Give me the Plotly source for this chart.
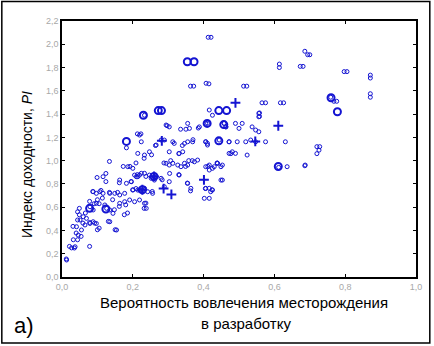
import plotly.graph_objects as go

# ---- data ----
x_small = [
    0.413, 0.421, 0.363, 0.372, 0.407, 0.415, 0.513, 0.522,
    0.686, 0.694, 0.700, 0.614, 0.614, 0.673, 0.681, 0.797, 0.805,
    0.871, 0.871, 0.871, 0.871, 0.759, 0.768, 0.776, 0.558, 0.558,
    0.720, 0.728, 0.726, 0.720, 0.686,
    0.182, 0.134, 0.173, 0.192, 0.209, 0.099, 0.124, 0.124,
    0.087, 0.110, 0.134, 0.157, 0.100, 0.114, 0.143, 0.091, 0.105,
    0.148, 0.162, 0.180, 0.185, 0.176, 0.232, 0.237,
    0.131, 0.150, 0.100, 0.105, 0.059, 0.078, 0.092,
    0.044, 0.049, 0.031, 0.040, 0.044, 0.054, 0.035, 0.021, 0.078, 0.012,
    0.044, 0.049, 0.078, 0.066,
    # dense cluster (lower left)
    0.013, 0.027, 0.037, 0.032, 0.046, 0.041, 0.051, 0.060, 0.069, 0.065, 0.055,
    0.079, 0.088, 0.097, 0.079, 0.088, 0.097, 0.088, 0.097, 0.107, 0.116,
    0.126, 0.135, 0.121, 0.135, 0.144, 0.154, 0.163, 0.177, 0.191,
    0.135, 0.149, 0.163, 0.177, 0.116, 0.163, 0.182, 0.196, 0.186, 0.200,
    0.210, 0.219, 0.233, 0.247, 0.261, 0.214, 0.228, 0.242, 0.256,
    0.205, 0.219, 0.233, 0.238,
    # middle band
    0.233, 0.294, 0.303, 0.355, 0.360, 0.388, 0.411, 0.458, 0.463,
    0.219, 0.224, 0.280, 0.289, 0.313, 0.317, 0.346, 0.355, 0.369,
    0.406, 0.411, 0.444, 0.472, 0.477, 0.266, 0.303, 0.331, 0.341,
    0.214, 0.233, 0.247, 0.294, 0.303, 0.313, 0.327, 0.336, 0.346, 0.355,
    0.374, 0.383, 0.416, 0.425, 0.439, 0.449, 0.205, 0.214, 0.224,
    0.261, 0.280, 0.289, 0.303, 0.331, 0.355, 0.364, 0.416, 0.420, 0.449,
    0.200, 0.219, 0.233, 0.252, 0.261,
    # upper-middle band
    0.565, 0.575, 0.617, 0.626, 0.416, 0.425, 0.556, 0.556, 0.406,
    0.458, 0.463, 0.490, 0.509, 0.500, 0.537, 0.547, 0.556,
    0.406, 0.411, 0.472, 0.519, 0.533, 0.547, 0.575, 0.631,
    0.472, 0.481, 0.490, 0.495, 0.523,
    0.406, 0.416, 0.430, 0.439, 0.453, 0.612, 0.636, 0.687,
    0.453, 0.406, 0.425, 0.402, 0.416,
    0.297, 0.335, 0.350, 0.385, 0.213, 0.223, 0.264, 0.340, 0.370,
    0.253, 0.232, 0.330, 0.288, 0.307, 0.358, 0.368, 0.349,
    0.412, 0.438, 0.330, 0.304, 0.283, 0.237, 0.213, 0.195, 0.162,
    0.354, 0.363, 0.405, 0.424, 0.200, 0.209, 0.255,
]
y_small = [
    2.060, 2.060, 1.640, 1.640, 1.665, 1.660, 1.640, 1.640,
    1.940, 1.910, 1.910, 1.830, 1.800, 1.810, 1.810, 1.765, 1.765,
    1.735, 1.710, 1.575, 1.545, 1.545, 1.510, 1.510, 1.410, 1.380,
    1.120, 1.120, 1.090, 1.060, 0.956,
    1.110, 0.993, 0.950, 0.950, 0.980, 0.855, 0.890, 0.820,
    0.735, 0.744, 0.727, 0.727, 0.664, 0.678, 0.664, 0.630, 0.630,
    0.578, 0.607, 0.620, 0.550, 0.535, 0.590, 0.635,
    0.478, 0.406, 0.406, 0.420, 0.463, 0.469, 0.463,
    0.490, 0.535, 0.435, 0.378, 0.320, 0.349, 0.249, 0.263, 0.263, 0.155,
    0.560, 0.590, 0.650, 0.550,
    # dense cluster (lower left)
    0.146, 0.250, 0.260, 0.320, 0.360, 0.432, 0.490, 0.518, 0.504, 0.447, 0.404,
    0.460, 0.475, 0.460, 0.604, 0.576, 0.633, 0.733, 0.719, 0.733, 0.719,
    0.590, 0.576, 0.619, 0.475, 0.547, 0.404, 0.633, 0.647, 0.662,
    0.719, 0.719, 0.705, 0.719, 0.862, 0.833, 0.805, 0.819, 0.948, 0.934,
    0.862, 0.876, 0.891, 0.876, 0.862, 0.747, 0.747, 0.733, 0.719,
    0.647, 0.662, 0.633, 0.590,
    # middle band
    1.390, 1.306, 1.290, 1.320, 1.277, 1.290, 1.320, 1.320, 1.290,
    1.220, 1.162, 1.177, 1.177, 1.162, 1.148, 1.148, 1.162, 1.162,
    1.162, 1.134, 1.177, 1.162, 1.060, 1.134, 1.076, 1.062, 1.076,
    1.062, 1.048, 1.076, 0.977, 0.962, 0.977, 0.962, 0.948, 0.977, 0.962,
    0.990, 1.005, 0.962, 0.934, 0.977, 0.948, 0.876, 0.862, 0.891,
    0.862, 0.848, 0.776, 0.819, 0.876, 0.805, 0.762, 0.762, 0.733, 0.833,
    0.747, 0.747, 0.762, 0.848, 0.833,
    # upper-middle band
    1.497, 1.497, 1.497, 1.497, 1.435, 1.390, 1.406, 1.377, 1.320,
    1.320, 1.290, 1.320, 1.320, 1.277, 1.290, 1.263, 1.248,
    1.162, 1.148, 1.162, 1.162, 1.177, 1.162, 1.162, 1.162,
    1.062, 1.076, 1.062, 1.162, 1.048,
    0.948, 0.919, 0.948, 0.977, 0.962, 0.942, 0.948, 0.962,
    0.833, 0.762, 0.747, 0.676, 0.676,
    1.300, 1.270, 1.270, 1.280, 1.230, 1.230, 1.130, 1.130, 1.180,
    1.050, 1.020, 1.060, 0.980, 1.000, 1.000, 1.000, 0.950,
    0.950, 0.980, 0.880, 0.890, 0.835, 0.864, 0.880, 0.820, 0.810,
    0.807, 0.740, 0.760, 0.750, 0.750, 0.760, 0.735,
]
x_big = [0.354, 0.373, 0.272, 0.281, 0.230, 0.443, 0.465, 0.778, 0.611,
         0.443, 0.124, 0.227, 0.260, 0.078, 0.182, 0.410, 0.457, 0.760]
y_big = [1.850, 1.850, 1.430, 1.430, 1.390, 1.430, 1.430, 1.420, 0.950,
         1.170, 0.584, 0.750, 0.864, 0.590, 1.165, 1.320, 1.310, 1.540]
x_plus = [0.490, 0.611, 0.282, 0.401, 0.309, 0.287, 0.546, 0.260, 0.227]
y_plus = [1.497, 1.300, 1.170, 0.835, 0.710, 0.760, 1.165, 0.864, 0.750]

x_ticks = [0.0, 0.2, 0.4, 0.6, 0.8, 1.0]
y_ticks = [0.0, 0.2, 0.4, 0.6, 0.8, 1.0, 1.2, 1.4, 1.6, 1.8, 2.0, 2.2]

BLUE = "#1414d2"

fig = go.Figure()
fig.add_trace(go.Scatter(x=x_small, y=y_small, mode="markers",
                         marker=dict(symbol="circle-open", size=4, color=BLUE,
                                     line=dict(width=1, color=BLUE)),
                         showlegend=False))
fig.add_trace(go.Scatter(x=x_big, y=y_big, mode="markers",
                         marker=dict(symbol="circle-open", size=7, color=BLUE,
                                     line=dict(width=2, color=BLUE)),
                         showlegend=False))
fig.add_trace(go.Scatter(x=x_plus, y=y_plus, mode="markers",
                         marker=dict(symbol="cross-thin-open", size=7, color=BLUE,
                                     line=dict(width=2, color=BLUE)),
                         showlegend=False))

axis_common = dict(
    showgrid=False, zeroline=False, showline=True, linecolor="black", linewidth=1.5,
    mirror="ticks", ticks="inside", ticklen=3, tickcolor="black", tickwidth=1,
    tickfont=dict(family="Liberation Sans, Arial", size=9, color="#a8a8a8"),
    tickformat=".1f",
)
fig.update_xaxes(range=[0, 1.0], tickvals=x_ticks, **axis_common)
fig.update_yaxes(range=[0, 2.2], tickvals=y_ticks, **axis_common)

title_font = dict(family="Liberation Sans, Arial", size=14, color="black")
xtitle_font = dict(family="Liberation Sans, Arial", size=15, color="black")
fig.update_layout(
    width=434, height=346,
    margin=dict(l=62, r=16, t=21, b=69),
    paper_bgcolor="white", plot_bgcolor="white",
    separators=", ",
    annotations=[
        dict(text="Индекс доходности, <i>PI</i>", textangle=-90, showarrow=False,
             xref="paper", yref="paper", x=-0.097, y=0.44,
             xanchor="center", yanchor="middle", font=title_font),
        dict(text="Вероятность вовлечения месторождения", showarrow=False,
             xref="paper", yref="paper", x=0.514, y=-0.10,
             xanchor="center", yanchor="middle", font=xtitle_font),
        dict(text="в разработку", showarrow=False,
             xref="paper", yref="paper", x=0.52, y=-0.18,
             xanchor="center", yanchor="middle", font=xtitle_font),
        dict(text="а)", showarrow=False,
             xref="paper", yref="paper", x=-0.14, y=-0.19,
             xanchor="left", yanchor="middle",
             font=dict(family="Liberation Sans, Arial", size=22, color="black")),
    ],
    shapes=[
        dict(type="rect", xref="paper", yref="paper",
             x0=-0.170, x1=1.039, y0=-0.258, y1=1.076,
             line=dict(color="black", width=1.5)),
    ],
)

fig.write_html("out.html", config={"displayModeBar": False},
               post_script="document.body.style.margin='0';")
